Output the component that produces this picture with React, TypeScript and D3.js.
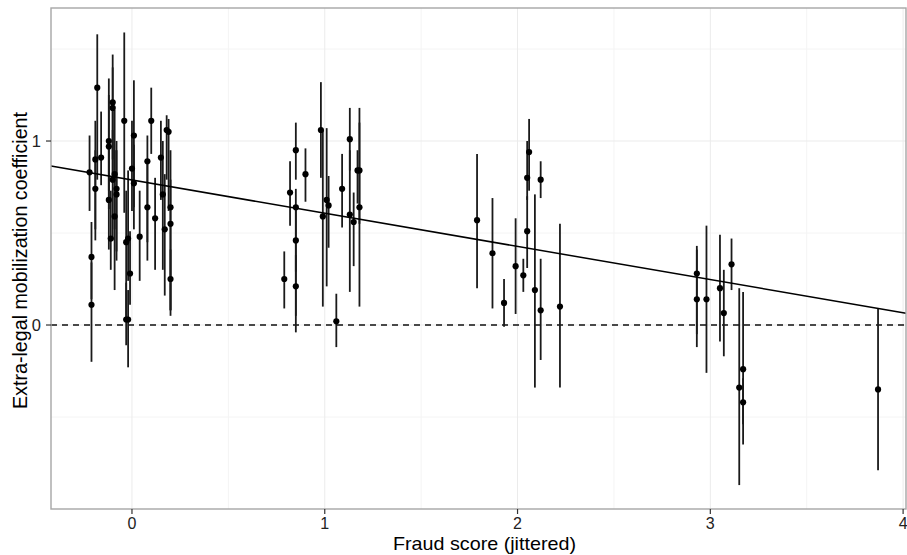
import React from "react";
import * as d3 from "d3";

// ---- data ----
const fraudScore = [
  -0.22, -0.21, -0.21, -0.18, -0.19, -0.19, -0.16, -0.12, -0.12, -0.10, -0.10, -0.12, -0.11, -0.09, -0.09, -0.08, -0.08, -0.10,
  -0.04, -0.03, -0.02, -0.03, -0.02, -0.01, 0.01, 0.00, 0.01, 0.04, 0.08, 0.08, 0.10, 0.12, 0.15, 0.16, 0.17, 0.18, 0.19, 0.20, 0.20, 0.20,
  0.79, 0.82, 0.85, 0.85, 0.85, 0.85, 0.90, 0.98, 0.99, 1.01, 1.02, 1.06, 1.09, 1.13, 1.13, 1.15, 1.17, 1.18, 1.18,
  1.79, 1.87, 1.93, 1.99, 2.03, 2.06, 2.05, 2.05, 2.09, 2.12, 2.12, 2.22,
  2.93, 2.93, 2.98, 3.05, 3.07, 3.11, 3.15, 3.17, 3.17, 3.87,
];
const coefficient = [
  0.83, 0.37, 0.11, 1.29, 0.90, 0.74, 0.91, 1.00, 0.97, 1.21, 1.18, 0.68, 0.47, 0.82, 0.59, 0.74, 0.71, 0.79,
  1.11, 0.45, 0.47, 0.03, 0.03, 0.28, 1.03, 0.85, 0.77, 0.48, 0.89, 0.64, 1.11, 0.58, 0.91, 0.71, 0.52, 1.06, 1.05, 0.64, 0.55, 0.25,
  0.25, 0.72, 0.95, 0.64, 0.46, 0.21, 0.82, 1.06, 0.59, 0.68, 0.65, 0.02, 0.74, 1.01, 0.60, 0.56, 0.84, 0.64, 0.84,
  0.57, 0.39, 0.12, 0.32, 0.27, 0.94, 0.80, 0.51, 0.19, 0.79, 0.08, 0.10,
  0.28, 0.14, 0.14, 0.20, 0.065, 0.33, -0.34, -0.24, -0.42, -0.35,
];
const lowerBound = [
  0.62, 0.14, -0.20, 0.79, 0.46, 0.52, 0.76, 0.63, 0.73, 0.90, 0.82, 0.41, 0.30, 0.52, 0.19, 0.40, 0.35, 0.46,
  0.61, 0.03, 0.24, -0.11, -0.23, 0.11, 0.64, 0.62, 0.52, 0.24, 0.45, 0.35, 0.93, 0.30, 0.68, 0.30, 0.16, 0.79, 0.62, 0.08, 0.08, 0.05,
  0.09, 0.54, 0.79, -0.04, 0.29, 0.05, 0.67, 0.80, 0.10, 0.21, 0.42, -0.12, 0.53, 0.84, 0.18, 0.32, 0.66, 0.10, 0.55,
  0.20, 0.09, -0.01, 0.06, 0.18, 0.73, 0.68, 0.31, -0.34, 0.69, -0.19, -0.34,
  -0.05, -0.12, -0.26, -0.09, -0.17, 0.19, -0.87, -0.65, -0.54, -0.79,
];
const upperBound = [
  1.03, 0.56, 0.34, 1.58, 1.11, 0.95, 1.16, 1.34, 1.25, 1.47, 1.40, 1.00, 0.73, 1.17, 0.95, 1.00, 0.95, 1.06,
  1.59, 0.73, 0.84, 0.23, 0.19, 0.51, 1.33, 1.11, 0.98, 0.73, 1.03, 0.90, 1.29, 0.80, 1.11, 1.00, 0.82, 1.14, 1.12, 0.95, 0.79, 0.41,
  0.40, 0.89, 1.10, 0.74, 0.63, 0.38, 0.96, 1.32, 1.06, 1.07, 0.81, 0.17, 0.93, 1.18, 0.95, 0.72, 0.95, 1.18, 1.10,
  0.93, 0.69, 0.25, 0.58, 0.36, 1.12, 1.00, 0.70, 0.71, 0.89, 0.36, 0.55,
  0.43, 0.41, 0.54, 0.49, 0.30, 0.47, 0.20, 0.18, -0.29, 0.09,
];
const fitIntercept = 0.788;
const fitSlope = -0.1804;

const xTicks = [0, 1, 2, 3, 4];
const xMinor = [0.5, 1.5, 2.5, 3.5];
const yTicks = [0, 1];
const yMinor = [-0.5, 0.5, 1.5];

const xTitle = "Fraud score (jittered)";
const yTitle = "Extra-legal mobilization coefficient";

// ---- layout ----
const W = 907;
const H = 555;
const panel = { left: 51, right: 906, top: 8, bottom: 509 };

export default function App() {
  const x = d3.scaleLinear().domain([-0.42, 4.015]).range([panel.left, panel.right]);
  const y = d3.scaleLinear().domain([-1.0, 1.723]).range([panel.bottom, panel.top]);
  const font = "'Liberation Sans', Arial, Helvetica, sans-serif";
  const [x0, x1] = x.domain();
  const fitLine = d3.line<number>().x((d) => x(d)).y((d) => y(fitIntercept + fitSlope * d));

  return (
    <svg width={W} height={H} style={{ position: "absolute", left: 0, top: 0, background: "#fff" }}>
      <rect x={0} y={0} width={W} height={H} fill="#fff" />
      {/* minor grid */}
      {xMinor.map((v) => (
        <line key={"xm" + v} x1={x(v)} x2={x(v)} y1={panel.top} y2={panel.bottom} stroke="#f4f4f4" strokeWidth={1} />
      ))}
      {yMinor.map((v) => (
        <line key={"ym" + v} x1={panel.left} x2={panel.right} y1={y(v)} y2={y(v)} stroke="#f4f4f4" strokeWidth={1} />
      ))}
      {/* major grid */}
      {xTicks.map((v) => (
        <line key={"xg" + v} x1={x(v)} x2={x(v)} y1={panel.top} y2={panel.bottom} stroke="#ebebeb" strokeWidth={1} />
      ))}
      {yTicks.map((v) => (
        <line key={"yg" + v} x1={panel.left} x2={panel.right} y1={y(v)} y2={y(v)} stroke="#ebebeb" strokeWidth={1} />
      ))}

      {/* zero reference */}
      <line x1={panel.left} x2={panel.right} y1={y(0)} y2={y(0)} stroke="#111" strokeWidth={1.4} strokeDasharray="6,5" />

      {/* error bars */}
      {fraudScore.map((fx, i) => (
        <line
          key={"e" + i}
          x1={x(fx)}
          x2={x(fx)}
          y1={y(lowerBound[i])}
          y2={y(upperBound[i])}
          stroke="#1a1a1a"
          strokeWidth={1.8}
        />
      ))}
      {/* points */}
      {fraudScore.map((fx, i) => (
        <circle key={"p" + i} cx={x(fx)} cy={y(coefficient[i])} r={3.1} fill="#000" />
      ))}

      {/* fit line */}
      <path d={fitLine([x0, x1]) || ""} fill="none" stroke="#000" strokeWidth={1.5} />

      {/* panel border */}
      <rect
        x={panel.left}
        y={panel.top}
        width={panel.right - panel.left}
        height={panel.bottom - panel.top}
        fill="none"
        stroke="#a6a6a6"
        strokeWidth={1.4}
      />

      {/* x axis ticks */}
      {xTicks.map((v) => (
        <g key={"xt" + v}>
          <line x1={x(v)} x2={x(v)} y1={panel.bottom} y2={panel.bottom + 5} stroke="#333" strokeWidth={1.2} />
          <text x={x(v)} y={529} textAnchor="middle" fontFamily={font} fontSize={16} fill="#222">
            {v}
          </text>
        </g>
      ))}
      {/* y axis ticks */}
      {yTicks.map((v) => (
        <g key={"yt" + v}>
          <line x1={panel.left - 5} x2={panel.left} y1={y(v)} y2={y(v)} stroke="#333" strokeWidth={1.2} />
          <text x={panel.left - 10} y={y(v) + 6} textAnchor="end" fontFamily={font} fontSize={16.5} fill="#222">
            {v}
          </text>
        </g>
      ))}

      {/* titles */}
      <text
        x={(panel.left + panel.right) / 2 + 6}
        y={550}
        textAnchor="middle"
        fontFamily={font}
        fontSize={18.5}
        fill="#000"
        textLength={183}
        lengthAdjust="spacingAndGlyphs"
      >
        {xTitle}
      </text>
      <text
        transform={`translate(27, ${(panel.top + panel.bottom) / 2 + 2}) rotate(-90)`}
        textAnchor="middle"
        fontFamily={font}
        fontSize={19.5}
        fill="#000"
        textLength={297}
        lengthAdjust="spacingAndGlyphs"
      >
        {yTitle}
      </text>
    </svg>
  );
}
